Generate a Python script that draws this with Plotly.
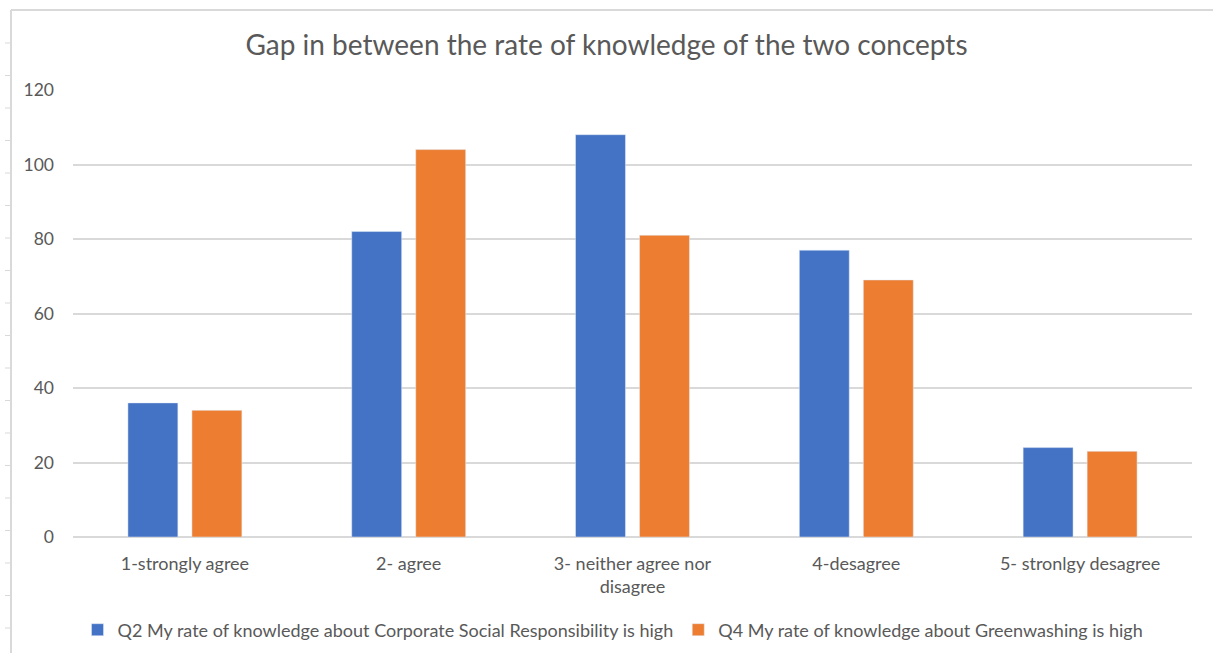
import plotly.graph_objects as go

categories = ["1-strongly agree", "2- agree", "3- neither agree nor<br>disagree", "4-desagree", "5- stronlgy desagree"]
csr_values = [36, 82, 108, 77, 24]
greenwashing_values = [34, 104, 81, 69, 23]
series_names = [
    "Q2 My rate of knowledge about Corporate Social Responsibility is high",
    "Q4 My rate of knowledge about Greenwashing is high",
]
y_ticks = [0, 20, 40, 60, 80, 100, 120]

W, H = 1213, 653
L, R, T, B = 73, 21, 90, 116
pw, ph = W - L - R, H - T - B

def px_x(x):
    return (x - L) / pw

def px_y(y):
    return (H - B - y) / ph

fig = go.Figure()
fig.add_trace(go.Bar(x=categories, y=csr_values, name=series_names[0], marker_color="#4472C4"))
fig.add_trace(go.Bar(x=categories, y=greenwashing_values, name=series_names[1], marker_color="#ED7D31"))

grey = "#595959"
font = "Lato, 'Open Sans', sans-serif"

# outer frame lines (left and top)
shapes = [
    dict(type="line", xref="paper", yref="paper", x0=px_x(11), x1=px_x(W + 5), y0=px_y(10), y1=px_y(10),
         line=dict(color="#d9d9d9", width=2)),
    dict(type="line", xref="paper", yref="paper", x0=px_x(11), x1=px_x(11), y0=px_y(10), y1=px_y(H + 5),
         line=dict(color="#d9d9d9", width=2)),
]
# small row markers in the left margin
yy = 43.0
while yy < H:
    shapes.append(dict(type="line", xref="paper", yref="paper", x0=px_x(5), x1=px_x(10), y0=px_y(yy), y1=px_y(yy),
                       line=dict(color="#d9d9d9", width=1)))
    yy += 32.5

fig.update_layout(
    width=W, height=H,
    margin=dict(l=L, r=R, t=T, b=B, autoexpand=False),
    paper_bgcolor="white", plot_bgcolor="white",
    barmode="group", bargap=0.428, bargroupgap=0.22,
    title=dict(text="Gap in between the rate of knowledge of the two concepts",
               x=0.5, xanchor="center", y=1 - 45 / H, yanchor="middle",
               font=dict(family=font, size=28, color=grey)),
    font=dict(family=font, size=18, color=grey),
    xaxis=dict(showgrid=False, showline=False, ticks="", ticklabelstandoff=14,
               tickfont=dict(family=font, size=18, color=grey)),
    yaxis=dict(range=[0, 120], tickvals=y_ticks, showgrid=True, gridcolor="#d9d9d9", gridwidth=1.5,
               zeroline=True, zerolinecolor="#d9d9d9", zerolinewidth=1.5, showline=False, ticks="",
               ticklabelstandoff=18, tickfont=dict(family=font, size=17.5, color=grey)),
    legend=dict(orientation="h", x=px_x(613), xanchor="center", y=px_y(630), yanchor="middle",
                font=dict(family=font, size=18, color=grey), itemwidth=30, traceorder="normal"),
    shapes=shapes,
)

fig.write_html("out.html")
